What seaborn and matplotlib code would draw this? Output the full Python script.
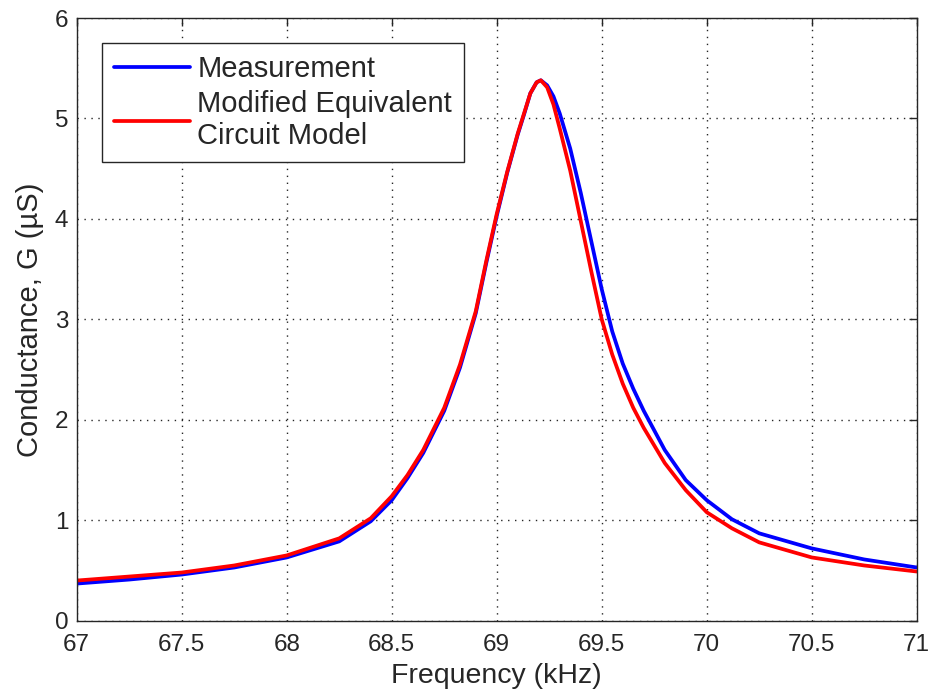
import numpy as np
import pandas as pd
import matplotlib
matplotlib.use("Agg")
import matplotlib.pyplot as plt
import seaborn as sns

freq = [67.0, 67.25, 67.5, 67.75, 68.0, 68.25, 68.4, 68.5, 68.575, 68.65, 68.75,
        68.825, 68.9, 68.95, 69.0, 69.05, 69.1, 69.13, 69.16, 69.19, 69.21, 69.24,
        69.27, 69.3, 69.35, 69.4, 69.45, 69.5, 69.55, 69.6, 69.65, 69.7, 69.8,
        69.9, 70.0, 70.12, 70.25, 70.5, 70.75, 71.0]

measurement = [0.37, 0.41, 0.46, 0.53, 0.63, 0.79, 0.99, 1.20, 1.42, 1.67, 2.09,
               2.52, 3.06, 3.56, 4.03, 4.46, 4.84, 5.04, 5.25, 5.36, 5.38, 5.33,
               5.22, 5.05, 4.70, 4.26, 3.78, 3.30, 2.88, 2.56, 2.31, 2.09, 1.70,
               1.40, 1.20, 1.01, 0.87, 0.72, 0.61, 0.53]

model = [0.40, 0.44, 0.48, 0.55, 0.65, 0.82, 1.02, 1.24, 1.45, 1.70, 2.12,
         2.55, 3.08, 3.58, 4.05, 4.47, 4.85, 5.05, 5.25, 5.36, 5.38, 5.31,
         5.14, 4.90, 4.48, 3.98, 3.48, 3.00, 2.65, 2.36, 2.12, 1.92, 1.57,
         1.30, 1.08, 0.92, 0.78, 0.63, 0.55, 0.49]

series_names = ["Measurement", "Modified Equivalent\nCircuit Model"]
x_ticks = [67, 67.5, 68, 68.5, 69, 69.5, 70, 70.5, 71]
x_ticklabels = ["67", "67.5", "68", "68.5", "69", "69.5", "70", "70.5", "71"]
y_ticks = [0, 1, 2, 3, 4, 5, 6]

df = pd.concat([
    pd.DataFrame({"Frequency": freq, "G": measurement, "Series": series_names[0]}),
    pd.DataFrame({"Frequency": freq, "G": model, "Series": series_names[1]}),
])

sns.set_style("white")
plt.rcParams["font.family"] = ["Liberation Sans", "DejaVu Sans"]

fig = plt.figure(figsize=(9.29, 6.98), dpi=100)
ax = fig.add_axes([0.0826, 0.1107, 0.9042, 0.8635])

sns.lineplot(data=df, x="Frequency", y="G", hue="Series",
             palette={series_names[0]: "#0000ff", series_names[1]: "#ff0000"},
             linewidth=2.7, ax=ax, sort=False, estimator=None)

ax.set_xlim(67, 71)
ax.set_ylim(0, 6)
ax.set_xticks(x_ticks)
ax.set_xticklabels(x_ticklabels)
ax.set_yticks(y_ticks)
ax.tick_params(direction="in", top=True, right=True, length=6, width=1,
               labelsize=17.5, colors="#262626", labelcolor="#262626")
ax.tick_params(axis="x", pad=9.5)
ax.tick_params(axis="y", pad=6)
ax.grid(True, linestyle=(0, (1, 4)), color="#262626", linewidth=1.0)
for s in ax.spines.values():
    s.set_color("#262626")
    s.set_linewidth(1.0)

ax.set_xlabel("Frequency (kHz)", fontsize=20.5, color="#262626", labelpad=5)
ax.set_ylabel("Conductance, G (\u00b5S)", fontsize=21, color="#262626", labelpad=8)

leg = ax.legend(loc="upper left", bbox_to_anchor=(0.0298, 0.9585), fontsize=21,
                frameon=True, fancybox=False, framealpha=1, edgecolor="#262626",
                handlelength=2.6, borderpad=0.42, labelspacing=0.22,
                handletextpad=0.25, borderaxespad=0)
leg.get_frame().set_linewidth(1.0)
for line in leg.get_lines():
    line.set_linewidth(2.7)
for t in leg.get_texts():
    t.set_color("#262626")

fig.savefig("out.png", dpi=100)
